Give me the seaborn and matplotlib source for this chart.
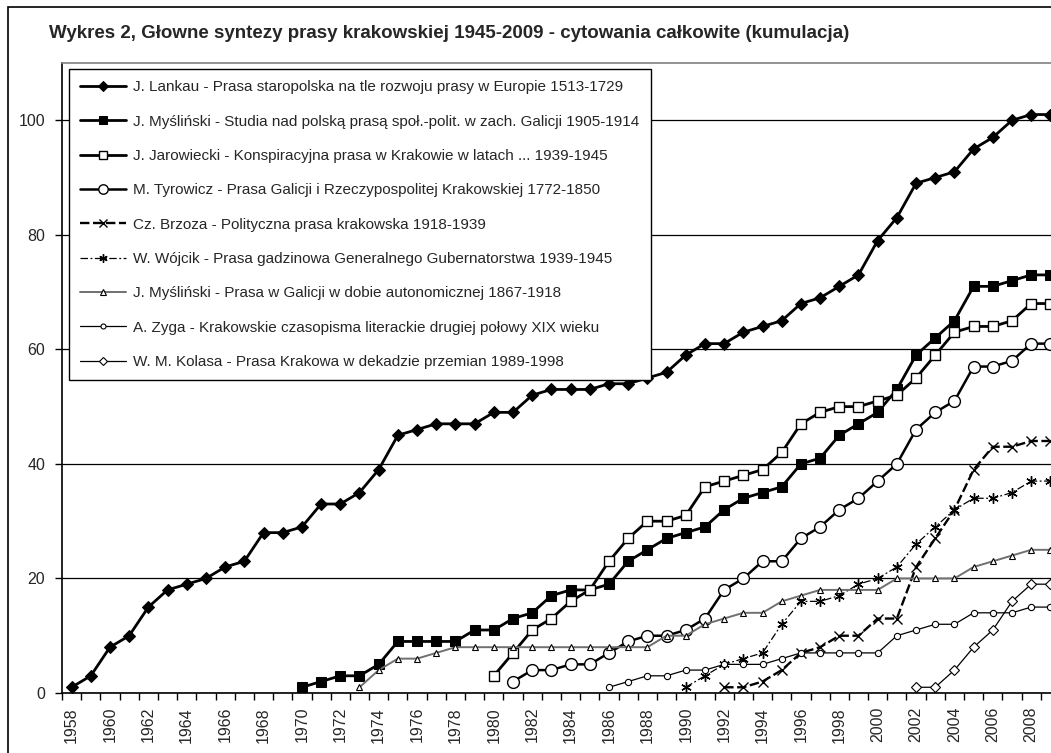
import numpy as np
import pandas as pd
import matplotlib.pyplot as plt
import seaborn as sns
from matplotlib.patches import Rectangle

sns.set_style('white')
plt.rcParams['font.family'] = ['Liberation Sans', 'DejaVu Sans']

title = 'Wykres 2, Głowne syntezy prasy krakowskiej 1945-2009 - cytowania całkowite (kumulacja)'

labels = [
    'J. Lankau - Prasa staropolska na tle rozwoju prasy w Europie 1513-1729',
    'J. Myśliński - Studia nad polską prasą społ.-polit. w zach. Galicji 1905-1914',
    'J. Jarowiecki - Konspiracyjna prasa w Krakowie w latach ... 1939-1945',
    'M. Tyrowicz - Prasa Galicji i Rzeczypospolitej Krakowskiej 1772-1850',
    'Cz. Brzoza - Polityczna prasa krakowska 1918-1939',
    'W. Wójcik - Prasa gadzinowa Generalnego Gubernatorstwa 1939-1945',
    'J. Myśliński - Prasa w Galicji w dobie autonomicznej 1867-1918',
    'A. Zyga - Krakowskie czasopisma literackie drugiej połowy XIX wieku',
    'W. M. Kolasa - Prasa Krakowa w dekadzie przemian 1989-1998',
]

# first year of each series
starts = [1958, 1970, 1980, 1981, 1992, 1990, 1973, 1986, 2002]

lankau = [1, 3, 8, 10, 15, 18, 19, 20, 22, 23, 28, 28,
          29, 33, 33, 35, 39, 45, 46, 47, 47, 47,
          49, 49, 52, 53, 53, 53, 54, 54, 55, 56,
          59, 61, 61, 63, 64, 65, 68, 69, 71, 73,
          79, 83, 89, 90, 91, 95, 97, 100, 101, 101]
myslinski1 = [1, 2, 3, 3, 5, 9, 9, 9, 9, 11,
              11, 13, 14, 17, 18, 18, 19, 23, 25, 27,
              28, 29, 32, 34, 35, 36, 40, 41, 45, 47,
              49, 53, 59, 62, 65, 71, 71, 72, 73, 73]
jarowiecki = [3, 7, 11, 13, 16, 18, 23, 27, 30, 30,
              31, 36, 37, 38, 39, 42, 47, 49, 50, 50,
              51, 52, 55, 59, 63, 64, 64, 65, 68, 68]
tyrowicz = [2, 4, 4, 5, 5, 7, 9, 10, 10,
            11, 13, 18, 20, 23, 23, 27, 29, 32, 34,
            37, 40, 46, 49, 51, 57, 57, 58, 61, 61]
brzoza = [1, 1, 2, 4, 7, 8, 10, 10,
          13, 13, 22, 27, 32, 39, 43, 43, 44, 44]
wojcik = [1, 3, 5, 6, 7, 12, 16, 16, 17, 19,
          20, 22, 26, 29, 32, 34, 34, 35, 37, 37]
myslinski2 = [1, 4, 6, 6, 7, 8, 8,
              8, 8, 8, 8, 8, 8, 8, 8, 8, 10,
              10, 12, 13, 14, 14, 16, 17, 18, 18, 18,
              18, 20, 20, 20, 20, 22, 23, 24, 25, 25]
zyga = [1, 2, 3, 3,
        4, 4, 5, 5, 5, 6, 7, 7, 7, 7,
        7, 10, 11, 12, 12, 14, 14, 14, 15, 15]
kolasa = [1, 1, 4, 8, 11, 16, 19, 19]

series = [lankau, myslinski1, jarowiecki, tyrowicz, brzoza, wojcik, myslinski2, zyga, kolasa]

styles = [
    dict(marker='D', markersize=6.5, mfc='black', mec='black', color='black', lw=2.0),
    dict(marker='s', markersize=6.5, mfc='black', mec='black', color='black', lw=2.0),
    dict(marker='s', markersize=6.5, mfc='white', mec='black', mew=1, color='black', lw=2.0),
    dict(marker='o', markersize=8.5, mfc='white', mec='black', mew=1, color='black', lw=1.8),
    dict(marker='x', markersize=7, mec='black', mew=1, color='black', lw=1.7, linestyle=(0, (4, 1.5))),
    dict(marker=(6, 2, 0), markersize=7.5, mec='black', mew=1, color='black', lw=0.9, linestyle=(0, (6, 2, 1.5, 2))),
    dict(marker='^', markersize=5, mfc='white', mec='black', mew=0.8, color='#707070', lw=1.4),
    dict(marker='o', markersize=4.5, mfc='white', mec='black', mew=0.8, color='black', lw=0.9),
    dict(marker='D', markersize=5, mfc='white', mec='black', mew=0.8, color='black', lw=0.9),
]

W, H = 1051, 753
fig = plt.figure(figsize=(W / 100, H / 100), dpi=100)
fig.patches.append(Rectangle((8 / W, -0.1), 1.2, 1.1 - 7 / H, transform=fig.transFigure,
                             fill=False, edgecolor='black', lw=1.2))
fig.text(49 / W, 1 - 33 / H, title, ha='left', va='center', fontsize=13.5, fontweight='bold')

ax = fig.add_axes([62 / W, 60 / H, (1060 - 62) / W, (693 - 63) / H])

for lab, st, vals, sty in zip(labels, starts, series, styles):
    df = pd.DataFrame({'year': list(range(st, st + len(vals))), 'value': vals})
    sns.lineplot(data=df, x='year', y='value', ax=ax, label=lab, **sty)

ax.set_xlim(1957.5, 2009.5)
ax.set_ylim(0, 110)
ax.set_xlabel('')
ax.set_ylabel('')

ax.set_xticks(list(range(1958, 2010, 2)))
ax.set_xticklabels([str(y) for y in range(1958, 2010, 2)], rotation=90)
ax.set_xticks(np.arange(1957.5, 2010, 1), minor=True)
ax.tick_params(axis='x', which='major', length=0, pad=10, labelsize=11.5)
ax.tick_params(axis='x', which='minor', length=5, width=1, direction='out', color='black', bottom=True)
ax.set_yticks([0, 20, 40, 60, 80, 100])
ax.tick_params(axis='y', length=5, width=1, direction='out', color='black', left=True, pad=7, labelsize=11.5)

ax.yaxis.grid(True, color='black', lw=0.9)
ax.xaxis.grid(False)
ax.set_axisbelow(True)
for s in ['left', 'bottom']:
    ax.spines[s].set_color('black')
    ax.spines[s].set_linewidth(1.2)
for s in ['top', 'right']:
    ax.spines[s].set_color('#808080')
    ax.spines[s].set_linewidth(1.2)

leg = ax.legend(loc='upper left', bbox_to_anchor=(69 / W, 1 - 69 / H), bbox_transform=fig.transFigure,
                borderaxespad=0, frameon=True, fancybox=False, edgecolor='black', framealpha=1,
                fontsize=11, handlelength=2.95, handletextpad=0.5, labelspacing=1.33,
                borderpad=0.75, markerscale=0.8)
leg.get_frame().set_linewidth(1.0)

fig.savefig('out.png', dpi=100)
